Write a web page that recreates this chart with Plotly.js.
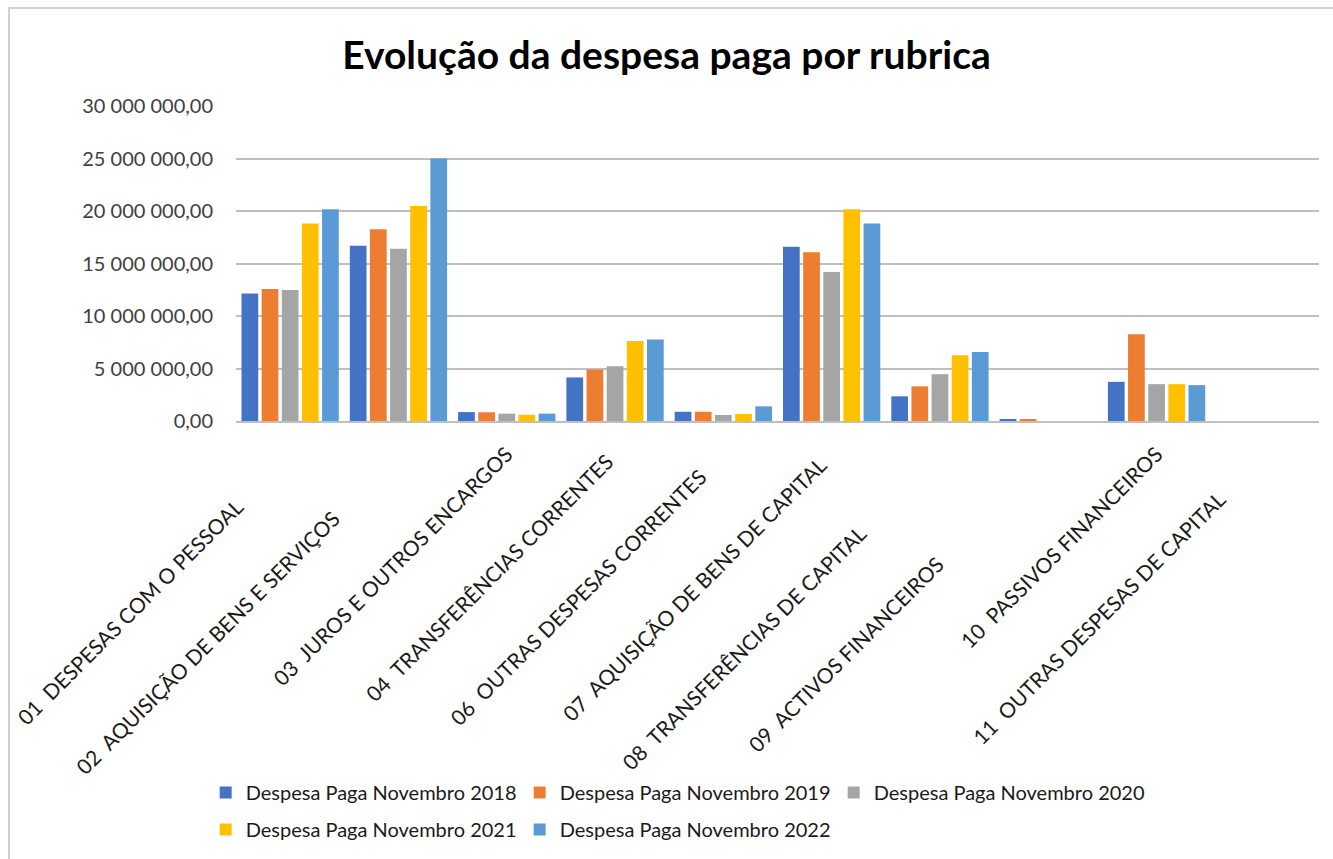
<!DOCTYPE html>
<html>
<head>
<meta charset="utf-8">
<script src="https://cdn.plot.ly/plotly-3.0.1.min.js"></script>
<style>
  html, body { margin: 0; padding: 0; background: #fff; overflow: hidden; }
  #wrap { position: relative; width: 1333px; height: 859px; overflow: hidden; }
  #chart { width: 1333px; height: 859px; }
  #frame { position: absolute; left: 8px; top: 7px; width: 2000px; height: 2000px;
           border-left: 2px solid #d0d0d0; border-top: 2px solid #d0d0d0; pointer-events: none; }
</style>
</head>
<body>
<div id="wrap">
  <div id="chart"></div>
  <div id="frame"></div>
</div>
<script>
// Category names (as in the source sheet; the source strings carry trailing blanks)
const categories = [
  "01  DESPESAS COM O PESSOAL",
  "02  AQUISIÇÃO DE BENS E SERVIÇOS",
  "03  JUROS E OUTROS ENCARGOS",
  "04  TRANSFERÊNCIAS CORRENTES",
  "06  OUTRAS DESPESAS CORRENTES",
  "07  AQUISIÇÃO DE BENS DE CAPITAL",
  "08  TRANSFERÊNCIAS DE CAPITAL",
  "09  ACTIVOS FINANCEIROS",
  "10  PASSIVOS FINANCEIROS",
  "11  OUTRAS DESPESAS DE CAPITAL"
];
const trailingBlanks = [14, 17, 0, 2, 6, 3, 21, 29, 0, 12];

const seriesNames = [
  "Despesa Paga Novembro 2018",
  "Despesa Paga Novembro 2019",
  "Despesa Paga Novembro 2020",
  "Despesa Paga Novembro 2021",
  "Despesa Paga Novembro 2022"
];

const nov2018 = [12150000, 16680000, 850000, 4150000, 880000, 16590000, 2350000, 190000, 3730000, 0];
const nov2019 = [12560000, 18260000, 830000, 4910000, 880000, 16080000, 3300000, 150000, 8260000, 0];
const nov2020 = [12470000, 16400000, 700000, 5220000, 570000, 14180000, 4460000, 0, 3510000, 0];
const nov2021 = [18800000, 20480000, 600000, 7630000, 660000, 20160000, 6270000, 0, 3510000, 0];
const nov2022 = [20160000, 25000000, 700000, 7760000, 1400000, 18800000, 6580000, 0, 3420000, 0];

const yTickVals = [0, 5000000, 10000000, 15000000, 20000000, 25000000, 30000000];

const colors = ["#4472C4", "#ED7D31", "#A5A5A5", "#FFC000", "#5B9BD5"];
const allSeries = [nov2018, nov2019, nov2020, nov2021, nov2022];
const legendRow = ["legend", "legend", "legend", "legend2", "legend2"];

const tickText = categories.map((c, i) => c + "\u00a0".repeat(trailingBlanks[i]));

const traces = allSeries.map((vals, i) => ({
  type: "bar",
  name: seriesNames[i],
  x: categories,
  y: vals,
  legend: legendRow[i],
  marker: { color: colors[i] },
  hoverinfo: "x+y+name"
}));

const legendFont = { family: "Lato, 'Open Sans', sans-serif", size: 20, color: "#1a1a1a" };
const legendBase = {
  orientation: "h",
  x: -0.028,
  xanchor: "left",
  yanchor: "top",
  entrywidth: 269,
  itemclick: false,
  itemdoubleclick: false,
  font: legendFont,
  bgcolor: "rgba(0,0,0,0)"
};

const layout = {
  width: 1333,
  height: 859,
  paper_bgcolor: "#ffffff",
  plot_bgcolor: "#ffffff",
  separators: ", ",
  margin: { l: 236, r: 14, t: 106, b: 437 },
  title: {
    text: "<b>Evolução da despesa paga por rubrica</b>",
    font: { family: "Lato, 'Open Sans', sans-serif", size: 39, color: "#000000" },
    x: 0.5, xanchor: "center",
    y: 0.935, yanchor: "middle"
  },
  barmode: "group",
  bargap: 0.07,
  bargroupgap: 0.17,
  xaxis: {
    type: "category",
    tickvals: categories,
    ticktext: tickText,
    tickangle: -45,
    tickfont: { family: "Lato, 'Open Sans', sans-serif", size: 21, color: "#1a1a1a" },
    showline: true,
    linecolor: "#bfbfbf",
    linewidth: 1.5,
    ticks: "",
    ticklabelstandoff: 11,
    automargin: false,
    fixedrange: true
  },
  yaxis: {
    range: [0, 30000000],
    tickvals: yTickVals,
    tickformat: ",.2f",
    tickfont: { family: "Lato, 'Open Sans', sans-serif", size: 20, color: "#404040" },
    showgrid: true,
    gridcolor: "#bfbfbf",
    gridwidth: 1.5,
    zeroline: false,
    showline: false,
    ticks: "",
    ticklabelstandoff: 22,
    automargin: false,
    fixedrange: true
  },
  showlegend: true,
  legend: Object.assign({}, legendBase, { y: -1.111 }),
  legend2: Object.assign({}, legendBase, { y: -1.228 })
};

Plotly.newPlot("chart", traces, layout, { displayModeBar: false, responsive: false });
</script>
</body>
</html>
